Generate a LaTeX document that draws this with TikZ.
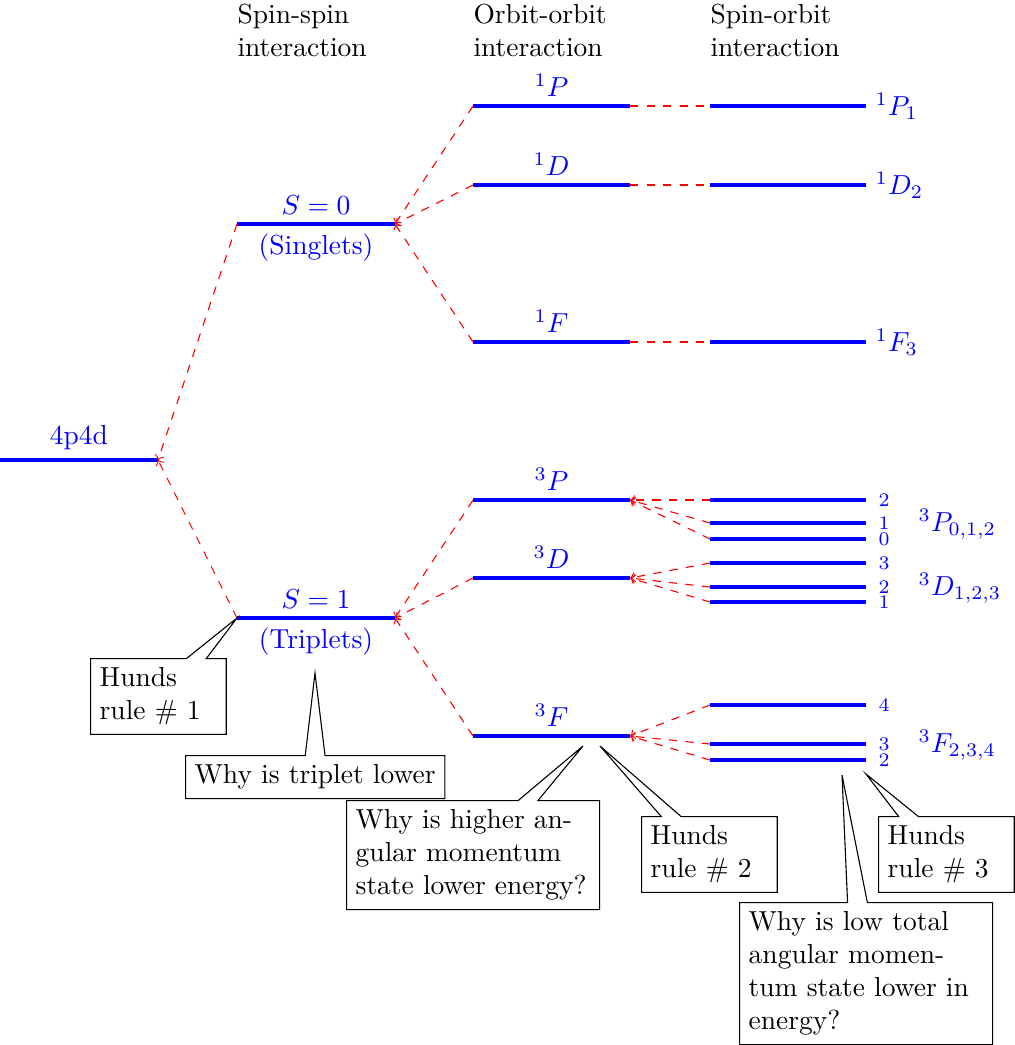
\documentclass[tikz,border=0pt]{standalone}
\usetikzlibrary{shapes.callouts}
\newcommand\mklevel[4]{%
  \coordinate (#1l) at (#2,#4);
  \coordinate (#1r) at (#3,#4);
  \draw[levelline] (#1l) -- (#1r);}
\begin{document}
\begin{tikzpicture}[x=0.363636pt,y=-0.363636pt,
  levelline/.style={blue,line width=1.7pt},
  split/.style={red,dashed,->,line width=0.4pt},
  link/.style={red,dashed,line width=0.4pt},
  lbl/.style={blue},
  num/.style={blue,font=\scriptsize,anchor=west},
  head/.style={align=left,anchor=north west,inner sep=0pt},
  note/.style={rectangle callout,draw=black,callout pointer width=7.2pt,
               anchor=north west,align=left}]
\useasboundingbox (0,0) rectangle (1015,1045);

% headers
\node[head] (h1) at (237,4) {Spin-spin\\interaction};
\node[head] (h2) at (473,4) {Orbit-orbit\\interaction};
\node[head] (h3) at (710,4) {Spin-orbit\\interaction};

% levels
\mklevel{A}{0}{158}{460}
\mklevel{S0}{237}{395}{224}
\mklevel{S1}{237}{395}{618}
\mklevel{oP}{473}{630}{106}
\mklevel{oD}{473}{630}{185}
\mklevel{oF}{473}{630}{342}
\mklevel{tP}{473}{630}{500}
\mklevel{tD}{473}{630}{578}
\mklevel{tF}{473}{630}{736}
\mklevel{sP}{710}{866}{106}
\mklevel{sD}{710}{866}{185}
\mklevel{sF}{710}{866}{342}
\mklevel{tPa}{710}{866}{500}
\mklevel{tPb}{710}{866}{523}
\mklevel{tPc}{710}{866}{539}
\mklevel{tDa}{710}{866}{563}
\mklevel{tDb}{710}{866}{587}
\mklevel{tDc}{710}{866}{602}
\mklevel{tFa}{710}{866}{705}
\mklevel{tFb}{710}{866}{744}
\mklevel{tFc}{710}{866}{760}

% connectors
\draw[split] (S0l) -- (Ar);
\draw[split] (S1l) -- (Ar);
\draw[split] (oPl) -- (S0r);
\draw[split] (oDl) -- (S0r);
\draw[split] (oFl) -- (S0r);
\draw[split] (tPl) -- (S1r);
\draw[split] (tDl) -- (S1r);
\draw[split] (tFl) -- (S1r);
\draw[link] (oPr) -- (sPl);
\draw[link] (oDr) -- (sDl);
\draw[link] (oFr) -- (sFl);
\draw[split] (tPal) -- (tPr);
\draw[split] (tPbl) -- (tPr);
\draw[split] (tPcl) -- (tPr);
\draw[split] (tDal) -- (tDr);
\draw[split] (tDbl) -- (tDr);
\draw[split] (tDcl) -- (tDr);
\draw[split] (tFal) -- (tFr);
\draw[split] (tFbl) -- (tFr);
\draw[split] (tFcl) -- (tFr);

% level labels
\node[lbl,above] (lA) at (79,460) {4p4d};
\node[lbl,above] (lS0) at (316,224) {$S=0$};
\node[lbl,below] (lS0b) at (316,224) {(Singlets)};
\node[lbl,above] (lS1) at (316,618) {$S=1$};
\node[lbl,below] (lS1b) at (316,618) {(Triplets)};
\node[lbl,above] (loP) at (551.5,106) {$^1P$};
\node[lbl,above] (loD) at (551.5,185) {$^1D$};
\node[lbl,above] (loF) at (551.5,342) {$^1F$};
\node[lbl,above] (ltP) at (551.5,500) {$^3P$};
\node[lbl,above] (ltD) at (551.5,578) {$^3D$};
\node[lbl,above] (ltF) at (551.5,736) {$^3F$};
\node[lbl,right] (lsP) at (sPr) {$^1P_1$};
\node[lbl,right] (lsD) at (sDr) {$^1D_2$};
\node[lbl,right] (lsF) at (sFr) {$^1F_3$};
\node[lbl,anchor=west] (ltPs) at (909,524) {$^3P_{0,1,2}$};
\node[lbl,anchor=west] (ltDs) at (909,588) {$^3D_{1,2,3}$};
\node[lbl,anchor=west] (ltFs) at (909,745) {$^3F_{2,3,4}$};

% J numbers
\node[num] (nPa) at (869,500) {2};
\node[num] (nPb) at (869,523) {1};
\node[num] (nPc) at (869,539) {0};
\node[num] (nDa) at (869,563) {3};
\node[num] (nDb) at (869,587) {2};
\node[num] (nDc) at (869,602) {1};
\node[num] (nFa) at (869,705) {4};
\node[num] (nFb) at (869,744) {3};
\node[num] (nFc) at (869,760) {2};

% callout targets
\coordinate (pTr) at (315,673);
\coordinate (pHi) at (583,746);
\coordinate (pH2) at (600,746);
\coordinate (pH3) at (866,774);
\coordinate (pLo) at (842,775);

% callouts
\node[note,text width=1.5cm,callout absolute pointer={(S1l)}] (c1) at (90,658) {Hunds rule \# 1};
\node[note,callout absolute pointer={(pTr)}] (c2) at (185,755) {Why is triplet lower};
\node[note,text width=3cm,callout absolute pointer={(pHi)}] (c3) at (346,800) {Why is higher angular momentum state lower energy?};
\node[note,text width=1.5cm,callout absolute pointer={(pH2)}] (c4) at (641,816) {Hunds rule \# 2};
\node[note,text width=1.5cm,callout absolute pointer={(pH3)}] (c5) at (878,816) {Hunds rule \# 3};
\node[note,text width=3cm,callout absolute pointer={(pLo)}] (c6) at (739,902) {Why is low total angular momentum state lower in energy?};
\end{tikzpicture}
\end{document}
